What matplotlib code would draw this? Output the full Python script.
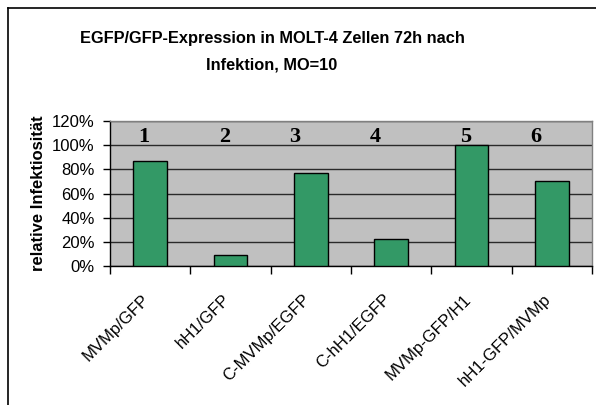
import numpy as np
import matplotlib
matplotlib.use("Agg")
import matplotlib.pyplot as plt
import matplotlib.transforms as mtransforms
from matplotlib.lines import Line2D
from matplotlib.ticker import FixedLocator, PercentFormatter

# constructs and relative infectivity (fraction of MVMp-GFP/H1)
constructs = ["MVMp/GFP", "hH1/GFP", "C-MVMp/EGFP", "C-hH1/EGFP", "MVMp-GFP/H1", "hH1-GFP/MVMp"]
infectivity = [0.87, 0.09, 0.77, 0.22, 1.00, 0.70]
bar_numbers = ["1", "2", "3", "4", "5", "6"]

title_lines = ["EGFP/GFP-Expression in MOLT-4 Zellen 72h nach", "Infektion, MO=10"]
ylabel = "relative Infektiosität"

W, H = 596, 405
fig = plt.figure(figsize=(W / 100, H / 100), dpi=100)
fig.patch.set_facecolor("white")

# chart area border (runs off the right and bottom edge)
fig.add_artist(Line2D([8 / W, 1.0], [1 - 8 / H, 1 - 8 / H], color="black", lw=1.2))
fig.add_artist(Line2D([8 / W, 8 / W], [0.0, 1 - 8 / H], color="black", lw=1.2))

ax = fig.add_axes([110 / W, (H - 266) / H, (592 - 110) / W, (266 - 121) / H])
ax.set_facecolor("#C0C0C0")

x = np.arange(len(constructs))
ax.bar(x, infectivity, width=0.42, color="#339966", edgecolor="black", linewidth=1.0, zorder=3)

ax.set_xlim(-0.5, len(constructs) - 0.5)
ax.set_ylim(0, 1.2)
ax.yaxis.set_major_locator(FixedLocator(np.arange(0, 1.21, 0.2)))
ax.yaxis.set_major_formatter(PercentFormatter(1.0, decimals=0))
ax.grid(axis="y", color="#2a2a2a", linewidth=1.0, zorder=1)

for side in ("top", "right"):
    ax.spines[side].set_color("#808080")
    ax.spines[side].set_linewidth(1.0)
for side in ("left", "bottom"):
    ax.spines[side].set_color("black")
    ax.spines[side].set_linewidth(1.0)

ax.tick_params(axis="y", direction="out", length=5, width=1, pad=6,
               labelsize=12, labelfontfamily="Liberation Sans")
# category separators as ticks, names as minor labels
ax.set_xticks(np.arange(-0.5, len(constructs), 1.0))
ax.set_xticklabels([])
ax.tick_params(axis="x", which="major", direction="out", length=6, width=1)
ax.set_xticks(x, minor=True)
ax.set_xticklabels(constructs, minor=True, rotation=45, ha="right", va="center",
                   rotation_mode="anchor", fontsize=12, family="Liberation Sans")
ax.tick_params(axis="x", which="minor", length=0, pad=0)
shift = mtransforms.ScaledTranslation(-3 / 100, -31 / 100, fig.dpi_scale_trans)
for lab in ax.get_xticklabels(minor=True):
    lab.set_transform(lab.get_transform() + shift)

# bar numbers above the bars
num_offsets = [-0.075, -0.075, -0.2, -0.2, -0.075, -0.2]
for xi, num, off in zip(x, bar_numbers, num_offsets):
    ax.text(xi + off, 1.066, num, ha="center", va="center", fontsize=16,
            fontweight="bold", family="Liberation Serif", zorder=4)

ax.set_ylabel(ylabel, fontsize=12, fontweight="bold", family="Liberation Sans")
ax.yaxis.set_label_coords(-64 / (592 - 110), 0.5)

for line, ypx in zip(title_lines, [38, 65]):
    fig.text(272 / W, 1 - ypx / H, line, ha="center", va="center", fontsize=11.8,
             fontweight="bold", family="Liberation Sans")

fig.savefig("out.png", dpi=100)
